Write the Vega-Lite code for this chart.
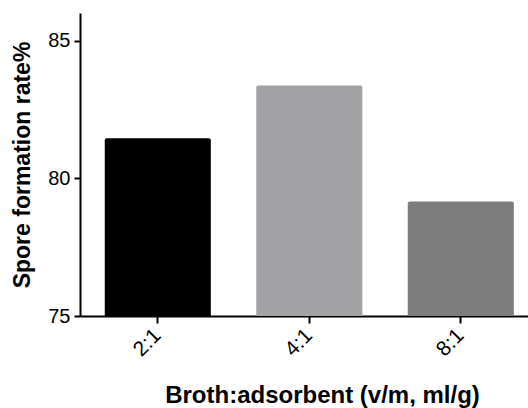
{
  "$schema": "https://vega.github.io/schema/vega-lite/v6.json",
  "autosize": "none",
  "width": 448,
  "height": 303,
  "padding": {"left": 80, "top": 13, "right": 0, "bottom": 92},
  "background": "white",
  "config": {"view": {"stroke": null}, "font": "Liberation Sans"},
  "data": {"values": [
    {"ratio": "2:1", "rate": 81.45},
    {"ratio": "4:1", "rate": 83.37},
    {"ratio": "8:1", "rate": 79.16}
  ]},
  "mark": {"type": "bar", "cornerRadiusTopLeft": 2, "cornerRadiusTopRight": 2},
  "encoding": {
    "x": {"field": "ratio", "type": "nominal", "sort": null,
      "scale": {"paddingInner": 0.3, "paddingOuter": 0.1285, "align": 0.636},
      "axis": {"title": "Broth:adsorbent (v/m, ml/g)", "labelAngle": -45, "labelAlign": "right", "labelBaseline": "middle",
        "labelFontSize": 21, "labelColor": "black",
        "titleFontSize": 24, "titleFontWeight": "bold", "titleColor": "black", "titlePadding": 24, "titleX": 242, "titleAlign": "center",
        "domainColor": "black", "domainWidth": 2, "tickColor": "black", "tickWidth": 2, "tickSize": 7, "labelPadding": 9}},
    "y": {"field": "rate", "type": "quantitative",
      "scale": {"domain": [75, 86], "nice": false, "zero": false},
      "axis": {"title": "Spore formation rate%", "values": [75, 80, 85], "grid": false, "labelFontSize": 20, "labelColor": "black",
        "titleFontSize": 23, "titleFontWeight": "bold", "titleColor": "black", "titlePadding": 13,
        "domainColor": "black", "domainWidth": 2, "tickColor": "black", "tickWidth": 2, "tickSize": 6, "labelPadding": 4}},
    "y2": {"datum": 75},
    "color": {"field": "ratio", "type": "nominal", "legend": null,
      "scale": {"domain": ["2:1", "4:1", "8:1"], "range": ["#000000", "#a2a2a5", "#7d7d7d"]}}
  }
}
